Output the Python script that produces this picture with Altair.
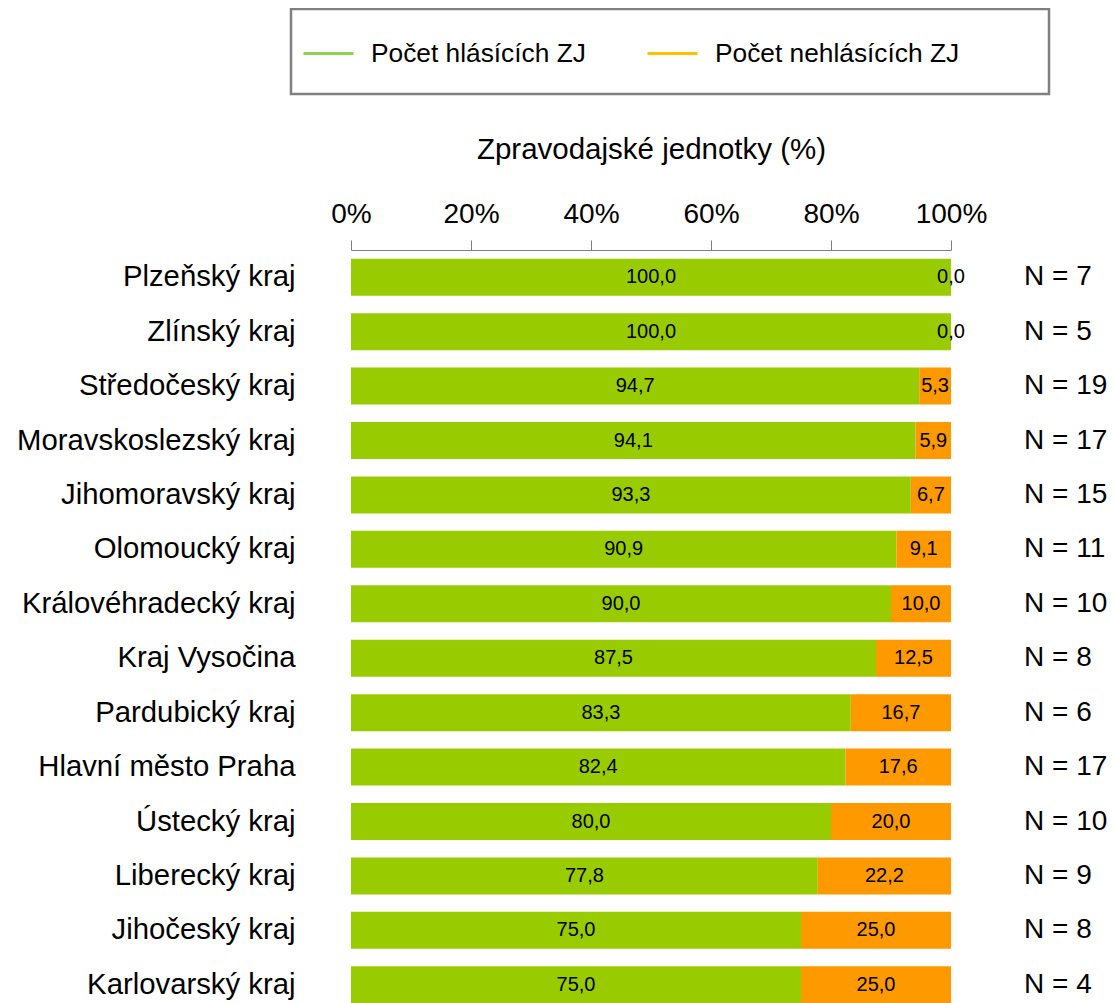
import altair as alt
import pandas as pd

regions = ["Plzeňský kraj", "Zlínský kraj", "Středočeský kraj", "Moravskoslezský kraj",
           "Jihomoravský kraj", "Olomoucký kraj", "Královéhradecký kraj", "Kraj Vysočina",
           "Pardubický kraj", "Hlavní město Praha", "Ústecký kraj", "Liberecký kraj",
           "Jihočeský kraj", "Karlovarský kraj"]
hlasici = [100.0, 100.0, 94.7, 94.1, 93.3, 90.9, 90.0, 87.5, 83.3, 82.4, 80.0, 77.8, 75.0, 75.0]
nehlasici = [0.0, 0.0, 5.3, 5.9, 6.7, 9.1, 10.0, 12.5, 16.7, 17.6, 20.0, 22.2, 25.0, 25.0]
n_counts = [7, 5, 19, 17, 15, 11, 10, 8, 6, 17, 10, 9, 8, 4]
series = ["Počet hlásících ZJ", "Počet nehlásících ZJ"]
bar_colors = ["#99CC00", "#FF9900"]
legend_colors = ["#92D050", "#FFC000"]
x_ticks = [0, 20, 40, 60, 80, 100]

FONT = "Liberation Sans"

rows = []
for r, g, o in zip(regions, hlasici, nehlasici):
    rows.append({"kraj": r, "serie": series[0], "start": 0.0, "end": g,
                 "mid": g / 2, "label": f"{g:.1f}".replace(".", ",")})
    rows.append({"kraj": r, "serie": series[1], "start": g, "end": g + o,
                 "mid": g + o / 2, "label": f"{o:.1f}".replace(".", ",")})
df = pd.DataFrame(rows)
df_n = pd.DataFrame({"kraj": regions, "nlab": [f"N = {v}" for v in n_counts]})
df_leg = pd.DataFrame({"serie": series})
df_box = pd.DataFrame({"a": [1]})

y_enc = alt.Y("kraj:N", sort=regions,
              scale=alt.Scale(paddingInner=0.32, paddingOuter=0.16),
              axis=alt.Axis(title=None, ticks=False, domain=False, labelFontSize=29.3,
                            labelFont=FONT, labelColor="black", labelPadding=56,
                            labelLimit=400))

bars = alt.Chart(df).mark_bar().encode(
    x=alt.X("start:Q", scale=alt.Scale(domain=[0, 100], nice=False),
            axis=alt.Axis(orient="top", values=x_ticks, labelExpr="datum.value + '%'",
                          title="Zpravodajské jednotky (%)", titleFontSize=29.5,
                          titleFont=FONT, titleFontWeight="normal", titleColor="black",
                          titlePadding=36, labelFontSize=28, labelFont=FONT,
                          labelColor="black", labelPadding=12, tickSize=10,
                          tickColor="#808080", domainColor="#808080", grid=False,
                          labelFlush=False)),
    x2="end:Q",
    y=y_enc,
    color=alt.Color("serie:N", scale=alt.Scale(domain=series, range=bar_colors), legend=None),
)

texts = alt.Chart(df).mark_text(fontSize=20, font=FONT, color="black",
                                align="center", baseline="middle").encode(
    x="mid:Q",
    y=alt.Y("kraj:N", sort=regions),
    text="label:N",
)

ntext = alt.Chart(df_n).mark_text(fontSize=28, font=FONT, color="black",
                                  align="left", baseline="middle").encode(
    x=alt.value(673),
    y=alt.Y("kraj:N", sort=regions),
    text="nlab:N",
)

leg = alt.Chart(df_leg).mark_line(strokeWidth=3).encode(
    x=alt.value(0), y=alt.value(0),
    color=alt.Color("serie:N", scale=alt.Scale(domain=series, range=legend_colors),
                    legend=alt.Legend(orient="none", legendX=-49, legendY=-223,
                                      direction="horizontal", title=None,
                                      symbolType="stroke", symbolSize=2500,
                                      symbolStrokeWidth=3, labelFontSize=26.3,
                                      labelFont=FONT, labelColor="black",
                                      labelOffset=16, columnPadding=55,
                                      labelLimit=500, padding=0)),
)

box = alt.Chart(df_box).mark_rect(filled=False, stroke="#808080", strokeWidth=2.5).encode(
    x=alt.value(-60), x2=alt.value(698), y=alt.value(-241), y2=alt.value(-156),
)

chart = alt.layer(bars, texts, ntext, leg, box).resolve_scale(
    color="independent"
).properties(
    width=600, height=762,
    autosize=alt.AutoSizeParams(type="none"),
    padding={"left": 343, "top": 242, "right": 156, "bottom": 0},
).configure_view(stroke=None)

chart.save("out.html", embed_options={"renderer": "svg", "actions": False})
